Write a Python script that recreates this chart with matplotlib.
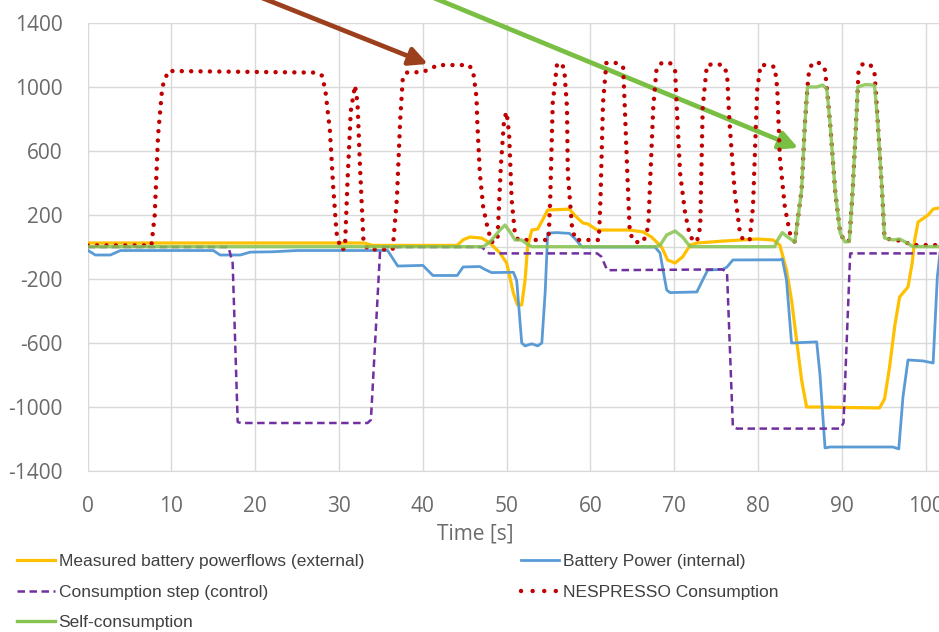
import matplotlib.pyplot as plt
from matplotlib.lines import Line2D

plt.rcParams['axes.unicode_minus'] = False

# ---- data (time in s, power in W) ----
ext_t = [0, 33.0, 34.0, 44.1, 44.8, 45.6, 47.0, 48.0, 49.2, 50.0, 50.8, 51.3, 51.8, 52.2, 52.5,
         53.0, 53.7, 54.2, 54.9, 57.5, 58.2, 59.1, 59.7, 60.8, 64.7, 66.3, 67.3, 68.5, 69.2, 70.1,
         71.0, 71.9, 72.7, 74.3, 75.8, 79.9, 81.8, 82.6, 83.4, 84.0, 84.6, 85.2, 85.8, 86.8, 94.5,
         95.1, 95.7, 96.3, 96.9, 97.9, 98.4, 98.7, 99.1, 100.3, 100.9, 101.6]
ext_p = [25, 25, 10, 10, 45, 62, 56, 25, -37, -100, -287, -362, -362, -206, 0,
         106, 112, 160, 231, 237, 194, 150, 144, 106, 106, 94, 62, 0, -81, -100,
         -62, 12, 25, 31, 37, 50, 44, 12, -144, -331, -581, -831, -1000, -1000, -1006,
         -950, -750, -500, -312, -250, -100, 44, 156, 200, 237, 244]

int_t = [0, 0.9, 2.7, 3.9, 15.0, 15.8, 18.2, 19.4, 22.0, 25.0, 35.8, 37.0, 40.0, 41.2, 44.1,
         44.8, 46.8, 47.4, 48.2, 50.8, 51.2, 51.8, 52.2, 53.0, 53.7, 54.2, 54.6, 54.9, 56.0, 57.5,
         58.2, 59.0, 67.7, 68.3, 69.1, 69.5, 72.7, 73.4, 74.0, 75.8, 76.3, 77.0, 82.6, 82.9, 83.4,
         84.0, 87.0, 87.4, 88.0, 88.6, 96.1, 96.8, 97.3, 97.9, 99.7, 100.9, 101.4, 101.8]
int_p = [-20, -50, -50, -22, -22, -50, -50, -32, -30, -22, -22, -119, -115, -178, -178,
         -125, -122, -140, -160, -158, -210, -600, -618, -605, -618, -600, -280, 87, 90, 85,
         50, 0, 0, -37, -269, -285, -281, -206, -144, -140, -125, -81, -80, -75, -206,
         -600, -593, -800, -1256, -1250, -1250, -1262, -937, -706, -712, -725, -187, 0]

step_t = [0, 16.8, 17.3, 17.9, 18.3, 33.4, 33.8, 34.9, 35.3, 47.0, 47.9, 60.8, 61.3, 62.0,
          75.8, 76.3, 77.0, 77.5, 89.8, 90.2, 91.0, 101.8]
step_p = [0, 0, -100, -1094, -1100, -1100, -1080, -20, 0, 0, -40, -40, -60, -145,
          -140, -160, -1125, -1135, -1135, -1100, -40, -40]

nes_t = [0, 7.6, 8.0, 8.4, 8.9, 9.6, 27.3, 28.0, 28.4, 28.9, 29.3, 29.7, 30.2, 30.7, 31.0,
         31.4, 31.9, 32.2, 32.5, 32.9, 33.4, 36.4, 36.9, 37.3, 37.6, 38.0, 40.0, 40.8, 41.8, 45.5,
         46.0, 46.1, 46.4, 46.5, 46.8, 47.2, 47.7, 48.2, 48.9, 49.3, 49.7, 50.0, 50.3, 50.6, 51.0,
         51.4, 55.0, 55.2, 55.5, 56.0, 56.6, 56.9, 57.2, 57.3, 57.8, 58.2, 61.0, 61.2, 61.5, 61.9,
         63.2, 63.9, 64.1, 64.4, 64.7, 65.3, 66.3, 66.9, 67.5, 67.9, 68.5, 69.5, 70.1, 70.3, 70.7,
         71.3, 71.9, 72.7, 73.1, 73.4, 73.9, 74.9, 75.8, 76.3, 76.6, 77.2, 77.8, 78.2, 79.0, 79.4,
         79.9, 80.3, 81.1, 82.0, 82.3, 82.6, 83.2, 83.8, 84.4, 85.2, 85.6, 85.9, 86.1, 86.5, 87.4,
         88.0, 88.2, 88.6, 89.2, 89.8, 90.4, 90.9, 91.3, 91.8, 92.0, 92.5, 93.4, 93.9, 94.3, 94.8,
         95.1, 96.1, 96.9, 97.8, 98.5, 101.8]
nes_p = [10, 10, 200, 700, 1000, 1100, 1090, 1070, 962, 731, 375, 87, -15, -10, 400,
         850, 1010, 900, 500, 50, -15, -15, 300, 800, 1050, 1090, 1094, 1112, 1137, 1137,
         1100, 1056, 937, 775, 462, 250, 125, 31, 40, 500, 800, 844, 700, 294, 75,
         44, 44, 294, 900, 1137, 1150, 1094, 875, 462, 125, 44, 44, 300, 900, 1150,
         1150, 1125, 875, 462, 87, 31, 31, 125, 875, 1119, 1150, 1150, 1106, 875, 462,
         212, 62, 31, 125, 875, 1137, 1144, 1137, 1087, 775, 356, 106, 44, 44, 250,
         981, 1137, 1137, 1125, 990, 562, 250, 87, 31, 356, 775, 1000, 1106, 1150, 1150,
         1106, 1000, 775, 356, 87, 31, 40, 356, 875, 1100, 1144, 1140, 1090, 775, 356,
         56, 44, 40, 25, 12, 12]

self_t = [0, 47.2, 48.0, 49.2, 49.8, 50.4, 51.0, 51.8, 52.4, 53.0, 67.7, 68.3, 69.1, 70.1, 71.0,
          71.9, 82.0, 82.3, 82.9, 83.6, 84.4, 85.2, 85.6, 85.9, 87.0, 87.7, 88.2, 88.6, 89.2, 89.8,
          90.4, 90.9, 91.3, 91.8, 91.9, 92.8, 93.9, 94.3, 94.8, 95.1, 96.1, 96.9, 97.8, 98.5, 101.8]
self_p = [2, 2, 31, 106, 137, 94, 44, 44, 20, 2, 2, 10, 75, 100, 62,
          2, 2, 40, 90, 60, 31, 356, 775, 1000, 1000, 1012, 990, 775, 356, 87,
          31, 35, 356, 875, 1000, 1015, 1012, 775, 356, 56, 44, 50, 25, 2, 2]

labels = ['Measured battery powerflows (external)', 'Battery Power (internal)',
          'Consumption step (control)', 'NESPRESSO Consumption', 'Self-consumption']
c_ext, c_int, c_step, c_nes, c_self = '#FFC000', '#5B9BD5', '#7030A0', '#C00000', '#86C34F'

fig = plt.figure(figsize=(9.39, 6.32), dpi=100)
ax = fig.add_axes([87.7 / 939, 1 - 471 / 632, 1 - 87.7 / 939, 448 / 632])

ax.plot(ext_t, ext_p, color=c_ext, lw=2.3, zorder=3)
ax.plot(int_t, int_p, color=c_int, lw=2.0, zorder=3)
ax.plot(step_t, step_p, color=c_step, lw=1.8, dashes=(3, 1.8), zorder=3)
ax.plot(nes_t, nes_p, color=c_nes, lw=3.2, linestyle=(0, (0.01, 2.1)),
        dash_capstyle='round', zorder=4)
ax.plot(self_t, self_p, color=c_self, lw=2.4, alpha=0.85, zorder=5)

ax.set_xlim(0, 101.6)
ax.set_ylim(-1400, 1400)
ax.set_xticks(range(0, 101, 10))
ax.set_yticks(range(-1400, 1401, 400))
ax.grid(True, color='#D9D9D9', lw=1.0)
ax.set_axisbelow(True)
ax.axhline(0, color='#D9D9D9', lw=1.0, zorder=1)
for s in ['top', 'right', 'left']:
    ax.spines[s].set_visible(False)
ax.spines['bottom'].set_color('#D9D9D9')
ax.tick_params(length=0, labelsize=15, labelcolor='#6A6A6A')
ax.tick_params(axis='y', pad=18)
ax.tick_params(axis='x', pad=18)
for lab in ax.get_xticklabels() + ax.get_yticklabels():
    lab.set_family('Open Sans')
fig.text(475 / 939, 1 - 534 / 632, 'Time [s]', ha='center', va='center',
         fontsize=15, color='#6A6A6A', family='Open Sans')

# arrows coming in from above the chart
head = '-|>,head_length=1.1,head_width=0.55'
ax.annotate('', xy=(40.6, 1144), xytext=(17.8, 1620), annotation_clip=False,
            arrowprops=dict(arrowstyle=head, lw=3.4, color='#9C3F1C', shrinkA=0, shrinkB=0))
ax.annotate('', xy=(84.8, 619), xytext=(38.4, 1620), annotation_clip=False,
            arrowprops=dict(arrowstyle=head, lw=3.4, color='#79BF43', shrinkA=0, shrinkB=0))

# legend below, two columns
def handle(color, **kw):
    return Line2D([], [], color=color, **kw)

h_ext = handle(c_ext, lw=2.3)
h_int = handle(c_int, lw=2.0)
h_step = handle(c_step, lw=1.8, dashes=(3, 1.8))
h_nes = handle(c_nes, lw=3.2, linestyle=(0, (0.01, 2.6)), dash_capstyle='round')
h_self = handle(c_self, lw=2.4)

leg_kw = dict(frameon=False, handlelength=2.2, handletextpad=0.2,
              labelspacing=0.88, borderpad=0, borderaxespad=0, loc='upper left',
              labelcolor='#404040', prop={'family': 'Liberation Sans', 'size': 12.5})
fig.legend([h_ext, h_step, h_self], [labels[0], labels[2], labels[4]],
           bbox_to_anchor=(17 / 939, 1 - 554 / 632), **leg_kw)
fig.legend([h_int, h_nes], [labels[1], labels[3]],
           bbox_to_anchor=(521 / 939, 1 - 554 / 632), **leg_kw)

fig.savefig('out.png', dpi=100)
